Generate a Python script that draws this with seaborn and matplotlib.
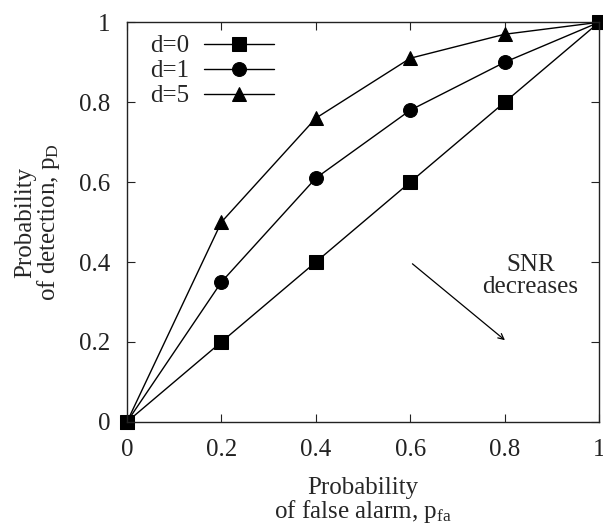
import numpy as np
import pandas as pd
import seaborn as sns
import matplotlib
matplotlib.use("Agg")
import matplotlib.pyplot as plt

# ROC points
pfa = [0.0, 0.2, 0.4, 0.6, 0.8, 1.0]
pd_d0 = [0.0, 0.2, 0.4, 0.6, 0.8, 1.0]
pd_d1 = [0.0, 0.35, 0.61, 0.78, 0.90, 1.0]
pd_d5 = [0.0, 0.50, 0.76, 0.91, 0.97, 1.0]
series_names = ["d=0", "d=1", "d=5"]
ticks = [0, 0.2, 0.4, 0.6, 0.8, 1]
tick_labels = ["0", "0.2", "0.4", "0.6", "0.8", "1"]

df = pd.DataFrame({
    "pfa": pfa * 3,
    "pd": pd_d0 + pd_d1 + pd_d5,
    "curve": np.repeat(series_names, len(pfa)),
})

sns.set_style("ticks")
plt.rcParams["font.family"] = ["Liberation Serif", "DejaVu Serif"]
plt.rcParams["mathtext.fontset"] = "custom"
plt.rcParams["mathtext.rm"] = "Liberation Serif"
plt.rcParams["mathtext.it"] = "Liberation Serif"

FS = 18

fig = plt.figure(figsize=(6.03, 5.3), dpi=100)
ax = fig.add_axes([0.2106, 0.204, 0.783, 0.754])

sns.lineplot(data=df, x="pfa", y="pd", style="curve", hue="curve",
             palette=["black"] * 3, markers=["s", "o", "^"], dashes=False,
             markersize=10, markeredgecolor="black", linewidth=1.0,
             ax=ax, clip_on=False)

ax.set_xlim(0, 1)
ax.set_ylim(0, 1)
ax.set_xticks(ticks)
ax.set_xticklabels(tick_labels)
ax.set_yticks(ticks)
ax.set_yticklabels(tick_labels)
ax.tick_params(direction="in", top=True, right=True, length=6, width=0.8,
               labelsize=FS, colors="#222222")
ax.tick_params(axis="y", pad=12)
ax.tick_params(axis="x", pad=12)
for s in ax.spines.values():
    s.set_linewidth(1.0)
    s.set_color("#222222")

ax.set_xlabel("Probability\nof false alarm, p$_{\\mathrm{fa}}$", fontsize=FS,
              linespacing=0.95, labelpad=12)
ax.set_ylabel("Probability\nof detection, p$_{\\mathrm{D}}$", fontsize=FS,
              linespacing=0.95, labelpad=12)

ax.annotate("", xy=(0.805, 0.20), xytext=(0.600, 0.40),
            arrowprops=dict(arrowstyle="->", color="black", lw=0.9))
ax.text(0.854, 0.365, "SNR\ndecreases", ha="center", va="center",
        fontsize=FS, linespacing=1.0)

leg = ax.legend(loc="upper left", frameon=False, fontsize=FS, markerfirst=False,
                handlelength=2.8, handletextpad=0.6, borderaxespad=0.2,
                borderpad=0.3, labelspacing=0.1,
                bbox_to_anchor=(0.022, 1.0))

fig.savefig("out.png", dpi=100)
